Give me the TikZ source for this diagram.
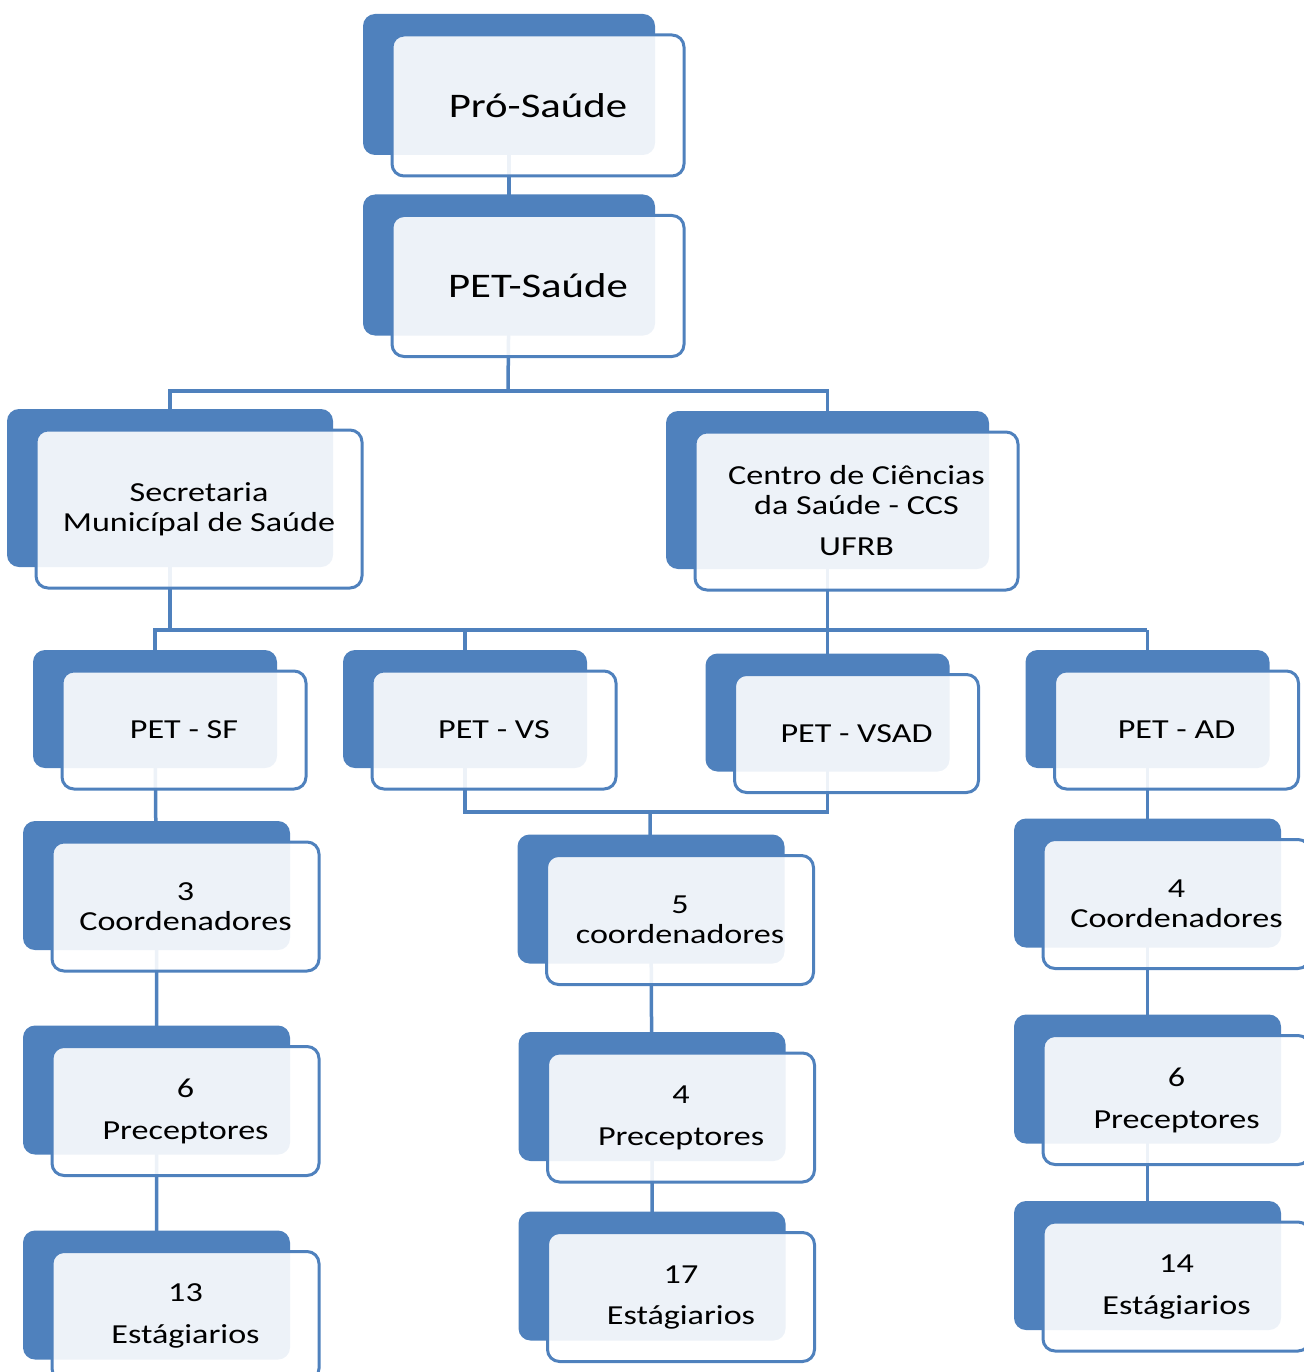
\documentclass[tikz,border=0pt]{standalone}
\usepackage{fontspec}
\setmainfont{Carlito}[FakeStretch=1.24]
\usetikzlibrary{backgrounds}
\definecolor{petblue}{HTML}{4F81BD}

\begin{document}
\begin{tikzpicture}[x=1pt,y=-1pt,align=center,
		card/.style={draw=petblue,line width=3pt,rounded corners=12pt,fill=white,fill opacity=0.9,text opacity=1,
			font=\fontsize{27.5}{30}\selectfont,
			preaction={fill=petblue,draw=none,fill opacity=1,transform canvas={shift={(-29pt,21pt)}}}},
		topcard/.style={card,minimum width=292,minimum height=141,font=\fontsize{34.5}{38}\selectfont},
		petcard/.style={card,minimum width=244,minimum height=118},
		numcard/.style={card,minimum width=267,minimum height=129},
		link/.style={draw=petblue,line width=3.5pt}]
		\useasboundingbox (0,0) rectangle (1303,1372);

		\node[topcard] (PRO) at (538,105.5) {Pró-Saúde};
		\node[topcard] (PET) at (538,286) {PET-Saúde};
		\node[card,minimum width=326,minimum height=158] (SMS) at (199,509) {Secretaria\\Municípal de Saúde};
		\node[card,minimum width=323,minimum height=158] (CCS) at (856.5,511) {Centro de Ciências\\da Saúde - CCS\\[11pt]UFRB};

		\node[petcard] (SF) at (184,730) {PET - SF};
		\node[petcard] (VS) at (494,730) {PET - VS};
		\node[petcard] (VSAD) at (856.5,733.5) {PET - VSAD};
		\node[petcard] (AD) at (1176.5,730) {PET - AD};

		\node[numcard] (C1) at (185.5,906.5) {3\\Coordenadores};
		\node[numcard] (P1) at (185.5,1111) {6\\[12pt]Preceptores};
		\node[numcard] (E1) at (185.5,1316) {13\\[12pt]Estágiarios};
		\node[numcard] (C2) at (680,920) {5\\coordenadores};
		\node[numcard] (P2) at (681,1117.5) {4\\[12pt]Preceptores};
		\node[numcard] (E2) at (681,1297) {17\\[11pt]Estágiarios};
		\node[numcard] (C3) at (1176.5,904) {4\\Coordenadores};
		\node[numcard] (P3) at (1176.5,1100) {6\\[12pt]Preceptores};
		\node[numcard] (E3) at (1176.5,1286.5) {14\\[12pt]Estágiarios};

		\coordinate (busA) at (508,391);
		\coordinate (busW) at (153,630);
		\coordinate (busE) at (1147,630);
		\coordinate (join) at (650,812);

		\begin{scope}[on background layer]
			\draw[link] ([xshift=-29]PRO.center) -- ([xshift=-29]PET.center);
			\draw[link] ([xshift=-29]PET.center) -- (busA);
			\draw[link] ([xshift=-29]SMS.center) |- (busA) -| ([xshift=-29]CCS.center);
			\draw[link] (busW) -- (busE);
			\draw[link] ([xshift=-29]SMS.center) -- ([xshift=-29]SMS.center |- busW);
			\foreach \n in {SF,VS,VSAD,AD}
				\draw[link] ([xshift=-29]\n.center) -- ([xshift=-29]\n.center |- busW);
			\draw[link] ([xshift=-29]CCS.center) -- ([xshift=-29]VSAD.center);
			\draw[link] ([xshift=-29]VS.center) |- (join) -| ([xshift=-29]VSAD.center);
			\draw[link] (join) -- ([xshift=-29]C2.center);
			\draw[link] ([xshift=-29]SF.center) -- ([xshift=-29]C1.center) -- ([xshift=-29]P1.center) -- ([xshift=-29]E1.center);
			\draw[link] ([xshift=-29]C2.center) -- ([xshift=-29]P2.center) -- ([xshift=-29]E2.center);
			\draw[link] ([xshift=-29]AD.center) -- ([xshift=-29]C3.center) -- ([xshift=-29]P3.center) -- ([xshift=-29]E3.center);
		\end{scope}
	\end{tikzpicture}
\end{document}
